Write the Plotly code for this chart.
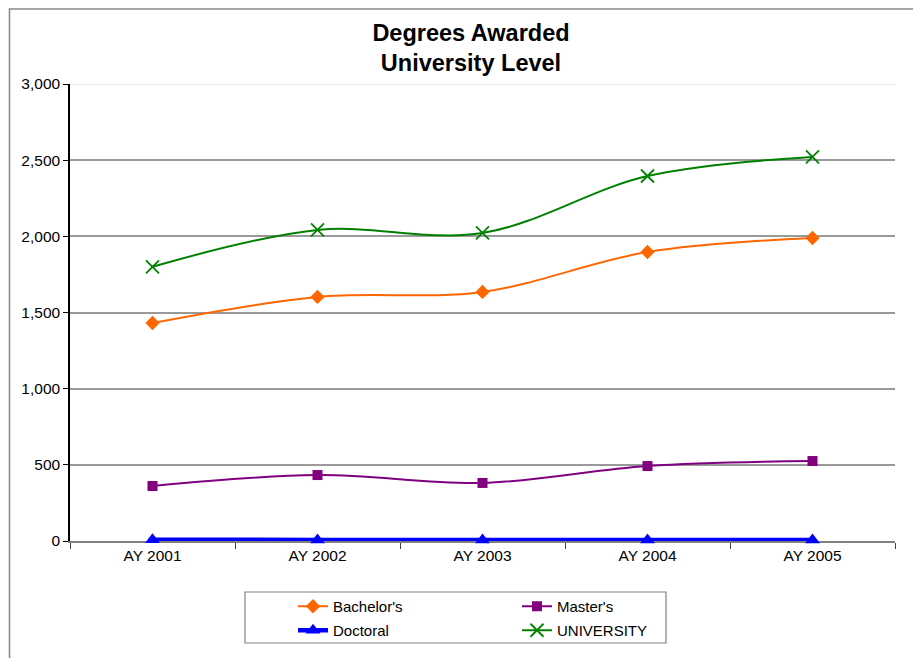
import plotly.graph_objects as go

years = ["AY 2001", "AY 2002", "AY 2003", "AY 2004", "AY 2005"]
bachelors = [1431, 1602, 1635, 1897, 1989]
masters = [361, 433, 381, 492, 525]
doctoral = [8, 7, 6, 7, 7]
university = [1800, 2042, 2022, 2396, 2521]
y_ticks = [0, 500, 1000, 1500, 2000, 2500, 3000]

OFF = 8  # page body margin
W, H = 913, 650
L, T = 62, 76
PW, PH = 825, 457
R, B = W - L - PW, H - T - PH

def px_x(p):
    return (p - OFF - L) / PW

def px_y(p):
    return (T + PH - (p - OFF)) / PH

def cx(p):
    return (p - OFF) / W

def cy(p):
    return 1 - (p - OFF) / H

FONT = "Liberation Sans, Arial, sans-serif"

fig = go.Figure()
fig.add_trace(go.Scatter(x=years, y=bachelors, name="Bachelor's", mode="lines+markers",
                         line=dict(color="#FF6600", width=2, shape="spline", smoothing=1),
                         marker=dict(symbol="diamond", size=11, color="#FF6600"),
                         legend="legend", cliponaxis=False))
fig.add_trace(go.Scatter(x=years, y=masters, name="Master's", mode="lines+markers",
                         line=dict(color="#800080", width=2, shape="spline", smoothing=1),
                         marker=dict(symbol="square", size=10, color="#800080"),
                         legend="legend", cliponaxis=False))
fig.add_trace(go.Scatter(x=years, y=doctoral, name="Doctoral", mode="lines+markers",
                         line=dict(color="#0000FF", width=4.5, shape="spline", smoothing=1),
                         marker=dict(symbol="triangle-up", size=13, color="#0000FF"),
                         legend="legend2", cliponaxis=False))
fig.add_trace(go.Scatter(x=years, y=university, name="UNIVERSITY", mode="lines+markers",
                         line=dict(color="#008000", width=2, shape="spline", smoothing=1),
                         marker=dict(symbol="x-thin", size=13, color="#008000",
                                     line=dict(color="#008000", width=1.8)),
                         legend="legend2", cliponaxis=False))

leg_common = dict(orientation="h", xanchor="left", yanchor="top",
                  xref="container", yref="container",
                  font=dict(family=FONT, size=15, color="#000"),
                  bgcolor="rgba(0,0,0,0)", entrywidth=179, entrywidthmode="pixels",
                  tracegroupgap=0, itemwidth=30)

fig.update_layout(
    width=W, height=H,
    margin=dict(l=L, r=R, t=T, b=B, autoexpand=False),
    paper_bgcolor="white", plot_bgcolor="white",
    font=dict(family=FONT, size=15, color="#000"),
    title=dict(text="<b>Degrees Awarded<br>University Level</b>",
               x=cx(471), xanchor="center", xref="container",
               y=cy(40.5), yanchor="middle", yref="container",
               font=dict(family=FONT, size=23.5, color="#000")),
    xaxis=dict(type="category", range=[-0.5, 4.5], showgrid=False,
               showline=True, linecolor="#808080", linewidth=1.5, layer="below traces",
               ticks="outside", tickson="boundaries", ticklen=6, tickcolor="#404040",
               tickfont=dict(family=FONT, size=15.5, color="#000"), zeroline=False),
    yaxis=dict(range=[0, 3000], tickvals=y_ticks, tickformat=",",
               showgrid=True, gridcolor="#9a9a9a", gridwidth=1.5,
               showline=True, linecolor="#000", linewidth=1.5, layer="below traces",
               ticks="outside", ticklen=5, tickcolor="#000",
               tickfont=dict(family=FONT, size=15.5, color="#000"), zeroline=False),
    legend=dict(x=cx(293), y=cy(590), **leg_common),
    legend2=dict(x=cx(293), y=cy(614), **leg_common),
    shapes=[
        dict(type="line", xref="paper", yref="y", x0=0, x1=1, y0=y_ticks[-1], y1=y_ticks[-1],
             line=dict(color="#ececec", width=2), layer="below"),
        dict(type="rect", xref="paper", yref="paper",
             x0=px_x(245), x1=px_x(666), y0=px_y(643), y1=px_y(592),
             line=dict(color="#808080", width=1.2)),
        dict(type="rect", xref="paper", yref="paper",
             x0=px_x(9.5), x1=px_x(940), y0=px_y(680), y1=px_y(9),
             line=dict(color="#8a8a8a", width=1.6)),
    ],
)

fig.write_html("out.html")
